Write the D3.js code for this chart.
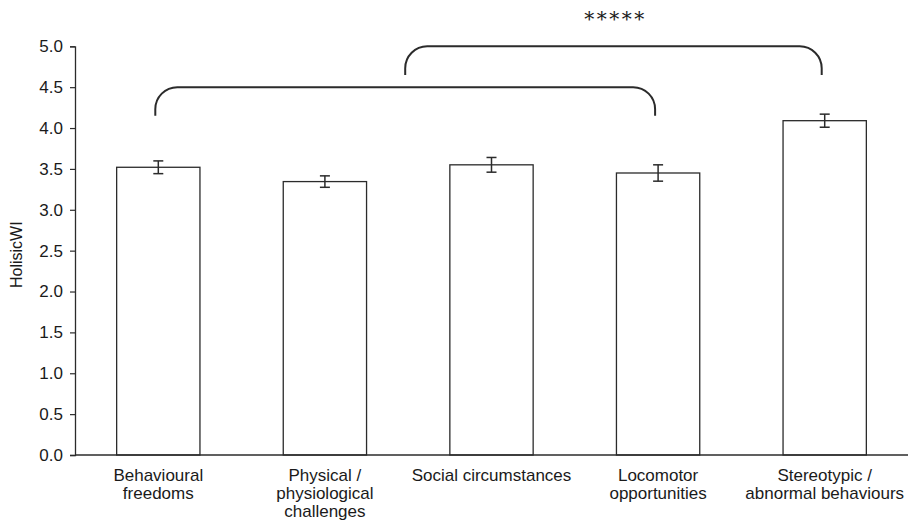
<!DOCTYPE html>
<html>
<head>
<meta charset="utf-8">
<script src="https://cdn.jsdelivr.net/npm/d3@7"></script>
<style>
  body { margin: 0; background: #fff; }
  text { font-family: "Liberation Sans", Arial, sans-serif; fill: #1a1a1a; }
</style>
</head>
<body>
<div class="chart"></div>
<script>
// values
var categories = [
  ['Behavioural', 'freedoms'],
  ['Physical /', 'physiological', 'challenges'],
  ['Social circumstances'],
  ['Locomotor', 'opportunities'],
  ['Stereotypic /', 'abnormal behaviours']
];
var means = [3.52, 3.345, 3.55, 3.45, 4.09];
var errors = [0.078, 0.07, 0.09, 0.1, 0.08];
var yTicks = [0, 0.5, 1, 1.5, 2, 2.5, 3, 3.5, 4, 4.5, 5];
// brackets: from / to in bar index units, top and end heights in data units
var brackets = [
  { from: 0, to: 3, top: 4.5, end: 4.15 },
  { from: 1.5, to: 4, top: 5.0, end: 4.65 }
];
var stars = '*****';

var opts = {
  width: 923,
  height: 525,
  left: 75,
  right: 908,
  top: 46.3,
  bottom: 455
};

var svg = d3.select('.chart')
  .append('svg')
  .attr('width', opts.width)
  .attr('height', opts.height);

var x = d3.scaleBand()
  .domain(d3.range(categories.length))
  .range([opts.left, opts.right])
  .paddingInner(0.5)
  .paddingOuter(0.25);

var y = d3.scaleLinear().domain([0, 5]).range([opts.bottom, opts.top]);

var ink = '#2b2b2b';

// y axis
var yAxis = svg.append('g')
  .attr('transform', 'translate(' + opts.left + ',0)')
  .call(d3.axisLeft(y).tickValues(yTicks).tickSize(5).tickFormat(d3.format('.1f')));
yAxis.select('.domain').attr('stroke', ink).attr('stroke-width', 1.3);
yAxis.selectAll('.tick line').attr('stroke', ink).attr('stroke-width', 1.2);
yAxis.selectAll('.tick text')
  .attr('x', -12)
  .style('font-size', '17px')
  .style('font-family', '"Liberation Sans", Arial, sans-serif')
  .attr('fill', '#1a1a1a');

svg.append('text')
  .attr('transform', 'translate(22,' + y(2.45) + ') rotate(-90)')
  .attr('text-anchor', 'middle')
  .style('font-size', '16px')
  .text('HolisicWI');

// bars
svg.selectAll('rect.bar')
  .data(means)
  .enter().append('rect')
  .attr('class', 'bar')
  .attr('x', function(d, i) { return x(i); })
  .attr('y', function(d) { return y(d); })
  .attr('width', x.bandwidth())
  .attr('height', function(d) { return y(0) - y(d); })
  .attr('fill', '#fff')
  .attr('stroke', ink)
  .attr('stroke-width', 1.3);

// x axis line drawn over bar bottoms
svg.append('line')
  .attr('x1', opts.left).attr('x2', opts.right)
  .attr('y1', y(0)).attr('y2', y(0))
  .attr('stroke', ink)
  .attr('stroke-width', 1.5);

// error bars
var errs = svg.selectAll('g.err')
  .data(means)
  .enter().append('g')
  .attr('class', 'err')
  .attr('stroke', ink)
  .attr('stroke-width', 1.5);
var cx = function(i) { return x(0) + x.bandwidth() / 2 + i * x.step(); };
errs.append('line')
  .attr('x1', function(d, i) { return cx(i); })
  .attr('x2', function(d, i) { return cx(i); })
  .attr('y1', function(d, i) { return y(d + errors[i]); })
  .attr('y2', function(d, i) { return y(d - errors[i]); });
[1, -1].forEach(function(sign) {
  errs.append('line')
    .attr('x1', function(d, i) { return cx(i) - 5; })
    .attr('x2', function(d, i) { return cx(i) + 5; })
    .attr('y1', function(d, i) { return y(d + sign * errors[i]); })
    .attr('y2', function(d, i) { return y(d + sign * errors[i]); });
});

// category labels
var labels = svg.selectAll('text.cat')
  .data(categories)
  .enter().append('text')
  .attr('class', 'cat')
  .attr('text-anchor', 'middle')
  .style('font-size', '17px')
  .attr('x', function(d, i) { return cx(i); })
  .attr('y', 481);
labels.selectAll('tspan')
  .data(function(d) { return d; })
  .enter().append('tspan')
  .attr('x', function() { return d3.select(this.parentNode).attr('x'); })
  .attr('dy', function(d, j) { return j === 0 ? 0 : 18; })
  .text(function(d) { return d; });

// significance brackets
var bracketPath = function(b) {
  var x0 = cx(b.from) - 3, x1 = cx(b.to) - 3;
  var yt = y(b.top), ye = y(b.end), r = 22;
  return 'M' + x0 + ',' + ye +
    'L' + x0 + ',' + (yt + r) +
    'A' + r + ',' + r + ' 0 0 1 ' + (x0 + r) + ',' + yt +
    'L' + (x1 - r) + ',' + yt +
    'A' + r + ',' + r + ' 0 0 1 ' + x1 + ',' + (yt + r) +
    'L' + x1 + ',' + ye;
};
svg.selectAll('path.bracket')
  .data(brackets)
  .enter().append('path')
  .attr('class', 'bracket')
  .attr('d', bracketPath)
  .attr('fill', 'none')
  .attr('stroke', ink)
  .attr('stroke-width', 2);

var upper = brackets[1];
svg.append('text')
  .attr('x', (cx(upper.from) + cx(upper.to)) / 2 - 1)
  .attr('y', 26)
  .attr('text-anchor', 'middle')
  .style('font-family', '"DejaVu Serif", "Liberation Serif", serif')
  .style('font-size', '20px')
  .style('letter-spacing', '2.5px')
  .attr('fill', '#444')
  .text(stars);
</script>
</body>
</html>
